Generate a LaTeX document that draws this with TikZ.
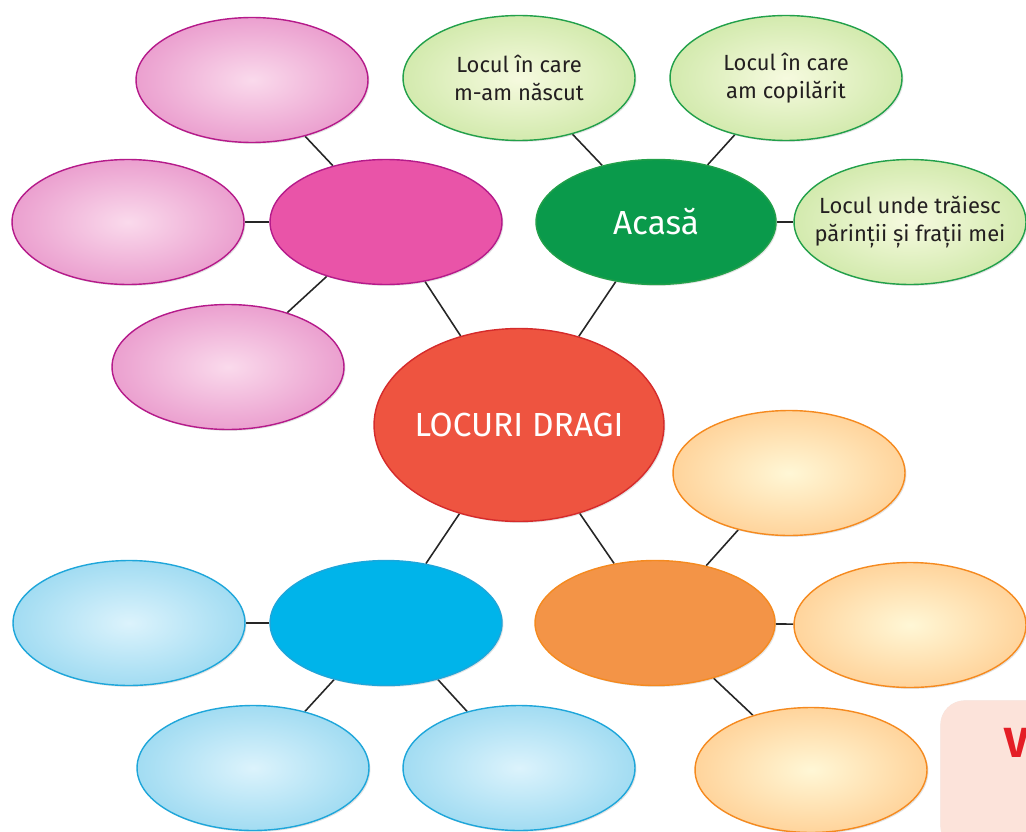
\documentclass[tikz,border=0pt]{standalone}
\usepackage{fontspec}
\setmainfont{Fira Sans}
\usetikzlibrary{shapes.geometric,shadows,backgrounds}
\definecolor{pinkline}{HTML}{B51A8A}
\definecolor{pinkin}{HTML}{FADAEC}
\definecolor{pinkout}{HTML}{EBA0CF}
\definecolor{pinkmain}{HTML}{E954A8}
\definecolor{greenline}{HTML}{22A04A}
\definecolor{greenin}{HTML}{F6FADF}
\definecolor{greenout}{HTML}{D3EAAE}
\definecolor{greenmain}{HTML}{0A9A4B}
\definecolor{redmain}{HTML}{EE5440}
\definecolor{redline}{HTML}{D52B2B}
\definecolor{orangemain}{HTML}{F39447}
\definecolor{orangeline}{HTML}{F58A1F}
\definecolor{orangein}{HTML}{FFF7D6}
\definecolor{orangeout}{HTML}{FFD49C}
\definecolor{bluemain}{HTML}{00B4EA}
\definecolor{blueline}{HTML}{1EA6DA}
\definecolor{bluein}{HTML}{DCF3FC}
\definecolor{blueout}{HTML}{A2DCF2}
\definecolor{inktext}{HTML}{231F20}
\definecolor{notebg}{HTML}{FCE3DA}
\definecolor{notered}{HTML}{E41E26}
\tikzset{
    bubble/.style = {
        ellipse,
        draw,
        line width=0.8pt,
        minimum width=4.64cm,
        minimum height=2.5cm,
        align=center,
        inner sep=-12pt,
        text=inktext,
        font=\fontsize{12.5}{16}\selectfont,
        drop shadow={opacity=0.22, shadow xshift=0.8pt, shadow yshift=-0.8pt},
        },
    pink leaf/.style = {
        bubble,
        draw=pinkline,
        inner color=pinkin,
        outer color=pinkout,
        },
    green leaf/.style = {
        bubble,
        draw=greenline,
        inner color=greenin,
        outer color=greenout,
        },
    orange leaf/.style = {
        bubble,
        draw=orangeline,
        inner color=orangein,
        outer color=orangeout,
        },
    blue leaf/.style = {
        bubble,
        draw=blueline,
        inner color=bluein,
        outer color=blueout,
        },
    hub/.style = {
        bubble,
        minimum width=4.8cm,
        text=white,
        font=\fontsize{19}{22}\selectfont,
        },
    link/.style = {
        draw=black!85,
        line width=0.9pt,
        },
}

\begin{document}
\begin{tikzpicture}[x=0.02cm,y=-0.02cm]
            \useasboundingbox (0,0) rectangle (1026,831);

            % centre
            \node[hub, fill=redmain, draw=redline, minimum width=5.8cm, minimum height=3.86cm] (center) at (519,425) {LOCURI DRAGI};

            % pink group
            \node[hub, fill=pinkmain, draw=pinkline, minimum width=4.64cm] (pink) at (386,222) {};
            \node[pink leaf] (pinktop) at (252,80) {};
            \node[pink leaf] (pinkleft) at (128,222) {};
            \node[pink leaf] (pinkbottom) at (228,367) {};

            % green group
            \node[hub, fill=greenmain, draw=greenline] (home) at (656,222) {Acasă};
            \node[green leaf] (born) at (519,78) {Locul în care\\m-am născut};
            \node[green leaf] (child) at (786,78) {Locul în care\\am copilărit};
            \node[green leaf] (family) at (910,222) {Locul unde trăiesc\\părinții și frații mei};

            % blue group
            \node[hub, fill=bluemain, draw=blueline, minimum width=4.64cm] (blue) at (386,623) {};
            \node[blue leaf] (blueleft) at (129,623) {};
            \node[blue leaf] (bluebl) at (253,768) {};
            \node[blue leaf] (bluebr) at (519,768) {};

            % orange group
            \node[hub, fill=orangemain, draw=orangeline] (orange) at (655,623) {};
            \node[orange leaf] (orangetop) at (789,473) {};
            \node[orange leaf] (orangeright) at (910,625) {};
            \node[orange leaf] (orangebottom) at (811,770) {};

            % note box in the corner
            \node[fill=notebg, rounded corners=14pt, minimum width=4cm, minimum height=3cm, anchor=north west,
                  drop shadow={opacity=0.15, shadow xshift=0pt, shadow yshift=0pt}] (note) at (940,700) {};
            \node[text=notered, font=\fontsize{24}{24}\bfseries\selectfont, anchor=west] (notetitle) at (998,743) {V};

            \begin{scope}[on background layer]
                \path[link] (pink) -- (pinktop);
                \path[link] (pink) -- (pinkleft);
                \path[link] (pink) -- (pinkbottom);
                \path[link] (pink) -- (center);
                \path[link] (home) -- (born);
                \path[link] (home) -- (child);
                \path[link] (home) -- (family);
                \path[link] (home) -- (center);
                \path[link] (center) -- (blue);
                \path[link] (center) -- (orange);
                \path[link] (blue) -- (blueleft);
                \path[link] (blue) -- (bluebl);
                \path[link] (blue) -- (bluebr);
                \path[link] (orange) -- (orangetop);
                \path[link] (orange) -- (orangeright);
                \path[link] (orange) -- (orangebottom);
            \end{scope}
        \end{tikzpicture}
\end{document}
